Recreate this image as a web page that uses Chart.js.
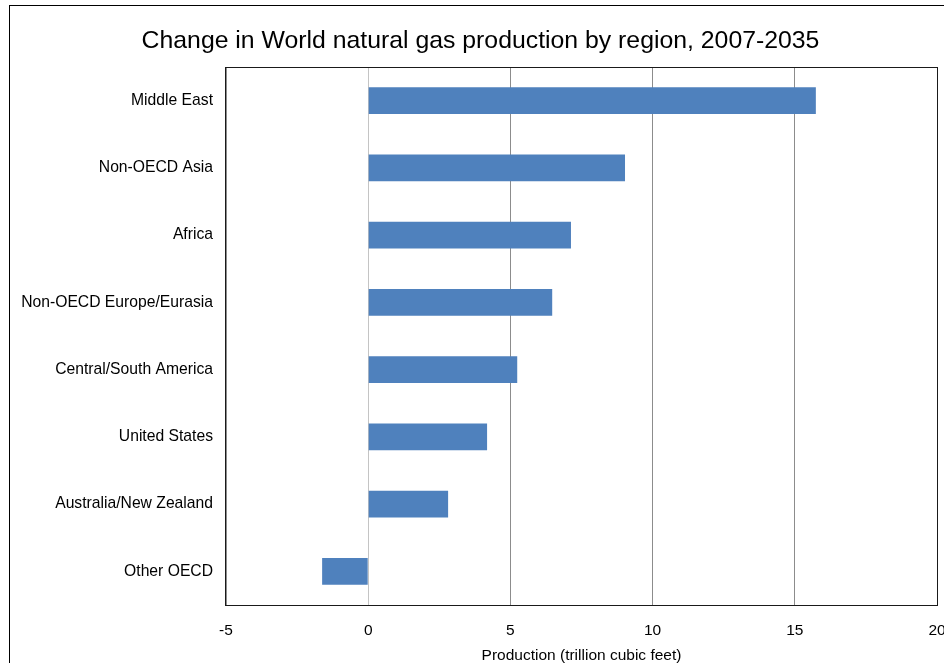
<!DOCTYPE html>
<html>
<head>
<meta charset="utf-8">
<script src="https://cdn.jsdelivr.net/npm/chart.js@4/dist/chart.umd.min.js"></script>
<style>
  html, body { margin: 0; padding: 0; background: #fff; overflow: hidden; }
  #wrap { width: 944px; height: 663px; position: relative; }
</style>
</head>
<body>
<div id="wrap"><canvas id="grafico"></canvas></div>
<script>
// dados
var regioes = ["Middle East", "Non-OECD Asia", "Africa", "Non-OECD Europe/Eurasia",
               "Central/South America", "United States", "Australia/New Zealand", "Other OECD"];
var producao = [15.74, 9.03, 7.13, 6.47, 5.24, 4.18, 2.81, -1.62];
var escalaX = { min: -5, max: 20, passo: 5 };
var titulo = "Change in World natural gas production by region, 2007-2035";

var fonte = "'Liberation Sans', Arial, sans-serif";

// título, moldura externa e borda da área do gráfico
var molduras = {
  id: "molduras",
  afterDraw: function(chart) {
    var ctx = chart.ctx;
    var a = chart.chartArea;
    ctx.save();
    ctx.fillStyle = "#000";
    ctx.font = "24.8px " + fonte;
    ctx.textAlign = "center";
    ctx.textBaseline = "middle";
    ctx.fillText(titulo, 480.5, 41);
    ctx.strokeStyle = "#000";
    ctx.lineWidth = 1;
    ctx.strokeRect(9.5, 5.5, 1000, 1000);
    ctx.strokeStyle = "#1a1a1a";
    ctx.strokeRect(Math.round(a.left) - 0.5, Math.round(a.top) + 0.5,
                   Math.round(a.right - a.left) + 1, Math.round(a.bottom - a.top));
    ctx.restore();
  }
};

new Chart(document.getElementById("grafico"), {
  type: "bar",
  data: {
    labels: regioes,
    datasets: [{
      data: producao,
      backgroundColor: "#4f81bd",
      barPercentage: 0.4,
      categoryPercentage: 1
    }]
  },
  options: {
    indexAxis: "y",
    responsive: true,
    maintainAspectRatio: false,
    animation: false,
    layout: { padding: { left: 0, right: 7, top: 67, bottom: 0 } },
    plugins: {
      legend: { display: false },
      tooltip: { enabled: false },
      title: { display: false }
    },
    scales: {
      x: {
        min: escalaX.min,
        max: escalaX.max,
        ticks: { stepSize: escalaX.passo, color: "#000", padding: 16,
                 font: { family: fonte, size: 15.5 } },
        grid: {
          drawTicks: false,
          color: function(c) { return c.tick && c.tick.value === 0 ? "#c4c4c4" : "#8c8c8c"; }
        },
        border: { display: false },
        title: {
          display: true,
          text: "Production (trillion cubic feet)",
          color: "#000",
          font: { family: fonte, size: 15.5 },
          padding: { top: 0, bottom: -2 }
        },
        afterFit: function(s) { s.height = 58; s.paddingLeft = 0; s.paddingRight = 0; }
      },
      y: {
        ticks: { color: "#000", padding: 13, font: { family: fonte, size: 15.7, lineHeight: 1.0 } },
        grid: { display: false, drawTicks: false },
        border: { display: false },
        afterFit: function(s) { s.width = 226; s.paddingTop = 0; s.paddingBottom = 0; }
      }
    }
  },
  plugins: [molduras]
});
</script>
</body>
</html>
